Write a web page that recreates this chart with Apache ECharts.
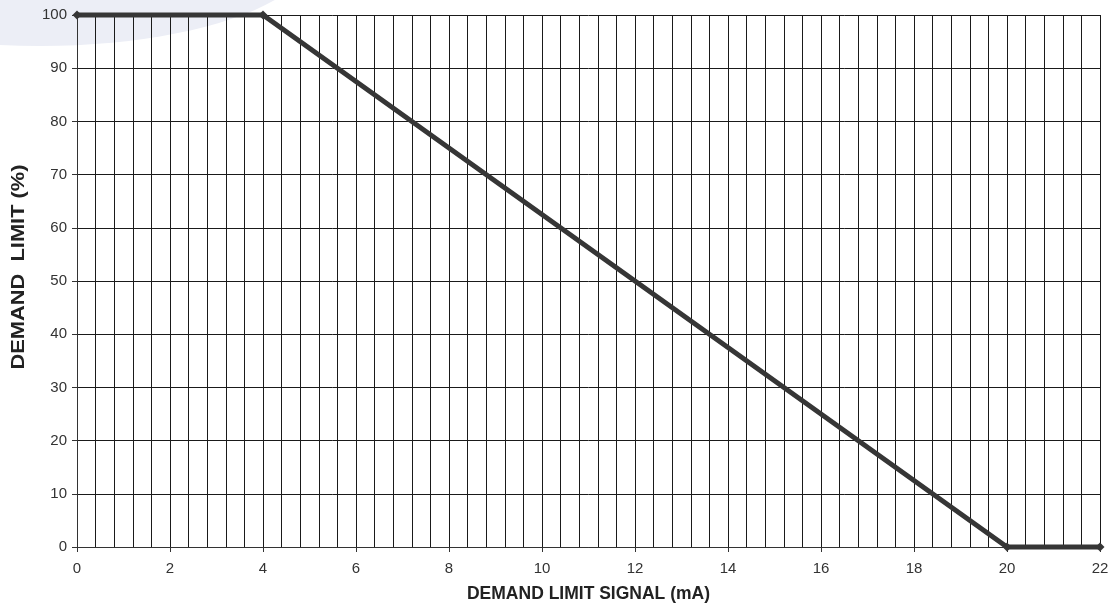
<!DOCTYPE html>
<html>
<head>
<meta charset="utf-8">
<script src="https://cdn.jsdelivr.net/npm/echarts@6/dist/echarts.min.js"></script>
<style>
  html, body { margin: 0; padding: 0; background: #fff; }
  #chart { width: 1109px; height: 612px; }
</style>
</head>
<body>
<div id="chart"></div>
<script>
// demand limit curve: signal (mA) -> limit (%)
const signalMA = [0, 4, 20, 22]
const limitPct = [100, 100, 0, 0]

const xMin = 0, xMax = 22
const xGridStep = 0.4
const xLabelStep = 2
const yMin = 0, yMax = 100, yStep = 10

const xTitle = 'DEMAND LIMIT SIGNAL (mA)'
const yTitle = 'DEMAND  LIMIT (%)'

const chart = echarts.init(document.getElementById('chart'))

const FONT = 'Liberation Sans, Arial, sans-serif'

const labelFont = {
  color: '#333',
  fontSize: 15,
  fontFamily: FONT,
}

const option = {
  backgroundColor: '#fff',
  animation: false,
  graphic: [
    {
      // faint decorative swoosh in the corner
      type: 'ellipse',
      z: -10,
      shape: { cx: 40, cy: -50, rx: 275, ry: 96 },
      style: { fill: '#eceef6' },
    },
    {
      // y title, slightly stretched like the printed one
      type: 'text',
      x: 19,
      y: 267,
      rotation: Math.PI / 2,
      scaleX: 1.15,
      style: {
        text: yTitle,
        fill: '#222',
        font: 'bold 19px ' + FONT,
        textAlign: 'center',
        textVerticalAlign: 'middle',
      },
    },
  ],
  grid: { left: 77, right: 9, top: 15, bottom: 65, outerBoundsMode: 'none' },
  xAxis: [
    {
      // fine grid lines
      type: 'value',
      min: xMin,
      max: xMax,
      interval: xGridStep,
      axisLine: { show: false },
      axisTick: { show: false },
      axisLabel: { show: false },
      splitLine: { show: true, lineStyle: { color: '#1a1a1a', width: 1 } },
    },
    {
      // labelled axis
      type: 'value',
      position: 'bottom',
      min: xMin,
      max: xMax,
      interval: xLabelStep,
      name: xTitle,
      nameLocation: 'middle',
      nameGap: 38,
      nameTextStyle: {
        color: '#222',
        fontSize: 17.5,
        fontWeight: 'bold',
        fontFamily: FONT,
      },
      axisLine: { show: true, lineStyle: { color: '#333', width: 1 } },
      axisTick: { show: true, length: 5, lineStyle: { color: '#333' } },
      axisLabel: { ...labelFont, margin: 14 },
      splitLine: { show: false },
    },
  ],
  yAxis: {
    type: 'value',
    min: yMin,
    max: yMax,
    interval: yStep,
    axisLine: { show: true, lineStyle: { color: '#333', width: 1 } },
    axisTick: { show: true, length: 5, lineStyle: { color: '#333' } },
    axisLabel: { ...labelFont, margin: 10 },
    splitLine: { show: true, lineStyle: { color: '#1a1a1a', width: 1 } },
  },
  series: [
    {
      type: 'line',
      xAxisIndex: 1,
      data: signalMA.map((x, i) => [x, limitPct[i]]),
      clip: false,
      symbol: 'diamond',
      symbolSize: 9,
      lineStyle: { color: '#363636', width: 5 },
      itemStyle: { color: '#363636' },
      z: 5,
    },
  ],
}

chart.setOption(option)
</script>
</body>
</html>
